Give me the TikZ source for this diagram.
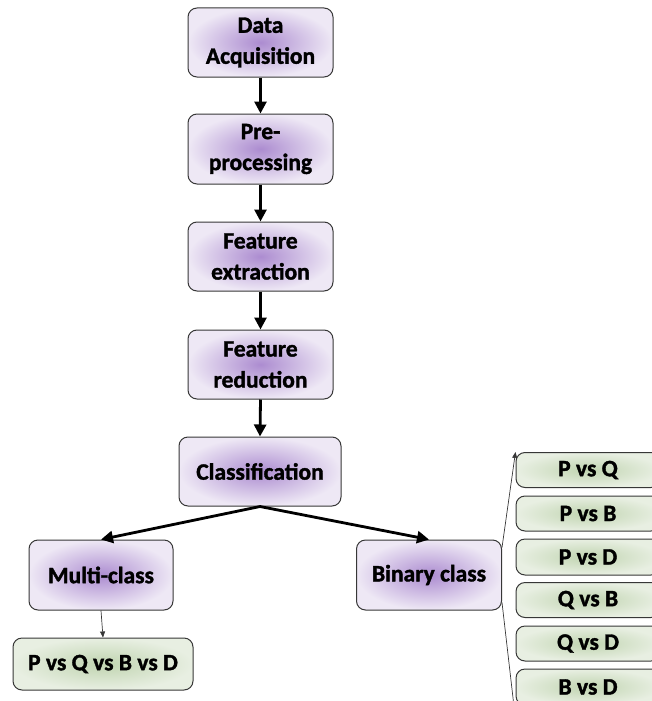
\documentclass[tikz,border=0pt]{standalone}
\usepackage{fontspec}
\setmainfont{Carlito}[BoldFeatures={FakeBold=1.5}]
\usetikzlibrary{arrows.meta}
\definecolor{pin}{RGB}{172,140,208}
\definecolor{pout}{RGB}{238,232,245}
\definecolor{gin}{RGB}{192,212,176}
\definecolor{gout}{RGB}{232,239,226}
\definecolor{edgec}{RGB}{55,55,55}
\begin{document}
\begin{tikzpicture}[x=1pt,y=-1pt,
  box/.style={draw=edgec, line width=1pt, rounded corners=9pt, inner sep=0pt, align=center,
    font=\fontsize{23.5}{31}\selectfont\bfseries},
  pbox/.style={box, shading=radial, inner color=pin, outer color=pout},
  gbox/.style={box, shading=radial, inner color=gin, outer color=gout},
  mainarrow/.style={line width=2.8pt, -{Triangle[length=12pt,width=12pt]}},
  thinarrow/.style={line width=0.7pt, draw=edgec, -{Triangle[length=6pt,width=5pt]}}]
\useasboundingbox (0,0) rectangle (652,701);
\clip (0,0) rectangle (652,701);
\node[pbox, minimum width=145pt, minimum height=69pt] (da) at (260.5,42.5) {Data\\Acquisition};
\node[pbox, minimum width=145pt, minimum height=70pt] (pp) at (260.5,149) {Pre-\\processing};
\node[pbox, minimum width=145pt, minimum height=69pt] (fe) at (260.5,256.5) {Feature\\extraction};
\node[pbox, minimum width=145pt, minimum height=69pt] (fr) at (260.5,364.5) {Feature\\reduction};
\node[pbox, minimum width=162pt, minimum height=69pt] (cl) at (260,471.5) {Classification};
\node[pbox, minimum width=144pt, minimum height=70pt] (mc) at (101,575) {Multi-class};
\node[pbox, minimum width=145pt, minimum height=70pt] (bc) at (429,575) {Binary class};
\node[gbox, minimum width=180pt, minimum height=52pt] (all) at (103,664) {P vs Q vs B vs D};
\node[gbox, minimum width=144pt, minimum height=35pt] (b1) at (588,470) {P vs Q};
\node[gbox, minimum width=144pt, minimum height=35pt] (b2) at (588,513.5) {P vs B};
\node[gbox, minimum width=144pt, minimum height=36pt] (b3) at (588,557) {P vs D};
\node[gbox, minimum width=144pt, minimum height=35pt] (b4) at (588,600) {Q vs B};
\node[gbox, minimum width=144pt, minimum height=35pt] (b5) at (588,643.5) {Q vs D};
\node[gbox, minimum width=144pt, minimum height=36pt] (b6) at (588,687) {B vs D};
\draw[mainarrow] (da.south) -- (pp.north);
\draw[mainarrow] (pp.south) -- (fe.north);
\draw[mainarrow] (fe.south) -- (fr.north);
\draw[mainarrow] (fr.south) -- (cl.north);
\draw[mainarrow] (cl.south) -- (mc.north);
\draw[mainarrow] (cl.south) -- (bc.north);
\draw[thinarrow] (mc.south) -- (all.north);
\coordinate (up) at ([yshift=-8pt]bc.north east);
\coordinate (dn) at ([yshift=8pt]bc.south east);
\draw[thinarrow] (up) -- (b1.north west);
\draw[thinarrow] (dn) -- ([yshift=-14pt]b6.south west);
\end{tikzpicture}
\end{document}
